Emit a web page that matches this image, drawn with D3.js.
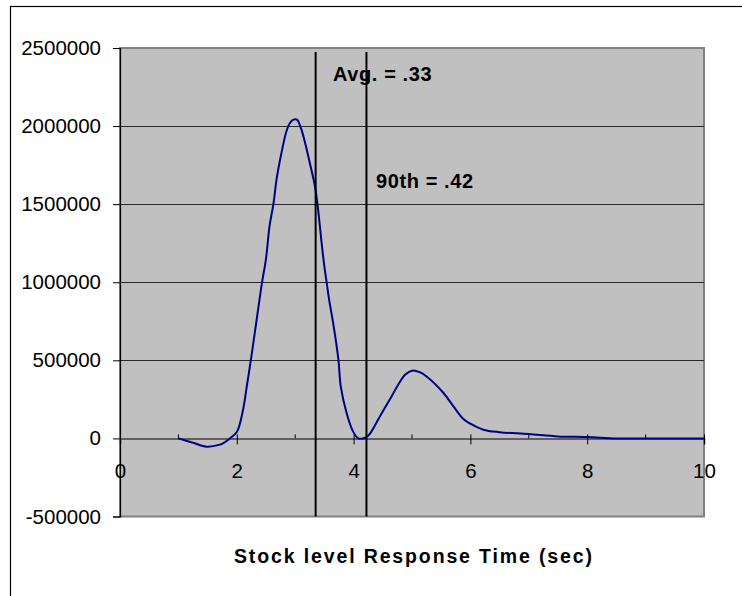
<!DOCTYPE html>
<html>
<head>
<meta charset="utf-8">
<script src="https://cdn.jsdelivr.net/npm/d3@7"></script>
<style>
  body { margin: 0; background: #fff; }
  svg { display: block; font-family: "Liberation Sans", Arial, sans-serif; }
</style>
</head>
<body>
<div id="chart"></div>
<script>
// response time (sec) vs count
const times = [1.0, 1.25, 1.48, 1.71, 1.77, 1.88, 2.0, 2.1, 2.18, 2.25, 2.34, 2.43, 2.5, 2.56, 2.63, 2.68, 2.76, 2.85, 2.91, 2.97,
  3.03, 3.1, 3.17, 3.25, 3.34, 3.4, 3.45, 3.5, 3.54, 3.58, 3.65, 3.74, 3.78, 3.88, 3.99, 4.08, 4.14, 4.25, 4.45, 4.65,
  4.88, 5.0, 5.14, 5.25, 5.54, 5.71, 5.88, 6.0, 6.22, 6.5, 7.0, 7.5, 8.0, 8.5, 9.0, 10.0];
const counts = [0, -28000, -53000, -40000, -30000, 0, 41000, 170000, 355000, 525000, 760000, 995000, 1150000, 1358000, 1508000, 1657000, 1820000, 1967000, 2020000, 2041000,
  2041000, 1985000, 1892000, 1764000, 1610000, 1440000, 1260000, 1100000, 995000, 890000, 739000, 504000, 333000, 163000, 45000, 0, -2000, 17000, 141000, 269000,
  408000, 434000, 423000, 397000, 291000, 205000, 124000, 94000, 56000, 40000, 28000, 13000, 9000, 0, 0, 0];

const avgLine = [[3.35, -500000], [3.35, 2475000]];
const pctLine = [[4.22, -500000], [4.22, 2475000]];
const avgLabel = "Avg. = .33";
const pctLabel = "90th = .42";

const xTicks = [0, 2, 4, 6, 8, 10];
const xMinorTicks = [1, 3, 5, 7, 9];
const yTicks = [-500000, 0, 500000, 1000000, 1500000, 2000000, 2500000];
const xTitle = "Stock level Response Time (sec)";

const W = 742, H = 596;
const plot = {left: 120, right: 704, top: 48, bottom: 516.5};

const x = d3.scaleLinear().domain([0, 10]).range([plot.left, plot.right]);
const y = d3.scaleLinear().domain([-500000, 2500000]).range([plot.bottom, plot.top]);

const svg = d3.select("#chart").append("svg")
  .attr("width", W)
  .attr("height", H);

// outer frame (runs off the right and bottom edges)
svg.append("rect")
  .attr("x", 10.5).attr("y", 6.5)
  .attr("width", 760).attr("height", 620)
  .attr("fill", "#fff").attr("stroke", "#000").attr("stroke-width", 1.2);

// plot area
svg.append("rect")
  .attr("x", plot.left).attr("y", plot.top)
  .attr("width", plot.right - plot.left).attr("height", plot.bottom - plot.top)
  .attr("fill", "#c0c0c0").attr("stroke", "#808080").attr("stroke-width", 2);

// horizontal gridlines
svg.append("g")
  .selectAll("line")
  .data(yTicks.filter(d => d !== 0 && d !== -500000 && d !== 2500000))
  .enter().append("line")
  .attr("x1", plot.left).attr("x2", plot.right)
  .attr("y1", d => Math.round(y(d)) + 0.5).attr("y2", d => Math.round(y(d)) + 0.5)
  .attr("stroke", "#2a2a2a").attr("stroke-width", 1);

// y axis
const yAxis = svg.append("g")
  .attr("transform", `translate(${plot.left},0)`)
  .call(d3.axisLeft(y).tickValues(yTicks).tickFormat(d => String(d)).tickSize(7).tickPadding(12));
yAxis.select(".domain").attr("stroke", "#000").attr("stroke-width", 1.2);
yAxis.selectAll(".tick line").attr("stroke", "#000");
yAxis.selectAll("text")
  .attr("font-family", "Liberation Sans, Arial, sans-serif")
  .attr("font-size", 20.5)
  .attr("fill", "#000");

// x axis through zero
const y0 = y(0);
const xAxis = svg.append("g")
  .attr("transform", `translate(0,${y0})`)
  .call(d3.axisBottom(x).tickValues(xTicks).tickSize(6).tickPadding(19));
xAxis.select(".domain").attr("stroke", "#404040").attr("stroke-width", 1.5);
xAxis.selectAll(".tick line").attr("y1", -4).attr("stroke", "#000");
xAxis.selectAll("text")
  .attr("font-family", "Liberation Sans, Arial, sans-serif")
  .attr("font-size", 20.5)
  .attr("fill", "#000");

svg.append("g")
  .selectAll("line")
  .data(xMinorTicks)
  .enter().append("line")
  .attr("x1", d => x(d)).attr("x2", d => x(d))
  .attr("y1", y0 - 4).attr("y2", y0)
  .attr("stroke", "#000");

// distribution curve
const line = d3.line()
  .x(d => x(d[0]))
  .y(d => y(d[1]))
  .curve(d3.curveCatmullRom.alpha(0.5));

svg.append("path")
  .datum(times.map((t, i) => [t, counts[i]]))
  .attr("d", line)
  .attr("fill", "none")
  .attr("stroke", "#000080")
  .attr("stroke-width", 2);

// marker lines
const straight = d3.line().x(d => x(d[0])).y(d => y(d[1]));
[avgLine, pctLine].forEach(l => {
  svg.append("path")
    .attr("d", straight(l))
    .attr("stroke", "#000")
    .attr("stroke-width", 2)
    .attr("fill", "none");
});

svg.append("text")
  .attr("x", 333).attr("y", 81)
  .attr("font-size", 20).attr("font-weight", "bold")
  .attr("letter-spacing", 0.6)
  .text(avgLabel);

svg.append("text")
  .attr("x", 376).attr("y", 188)
  .attr("font-size", 20).attr("font-weight", "bold")
  .attr("letter-spacing", 0.6)
  .text(pctLabel);

// axis title
svg.append("text")
  .attr("x", (plot.left + plot.right) / 2 + 1)
  .attr("y", 563)
  .attr("text-anchor", "middle")
  .attr("font-size", 19.5).attr("font-weight", "bold")
  .attr("textLength", 358).attr("lengthAdjust", "spacing")
  .text(xTitle);
</script>
</body>
</html>
